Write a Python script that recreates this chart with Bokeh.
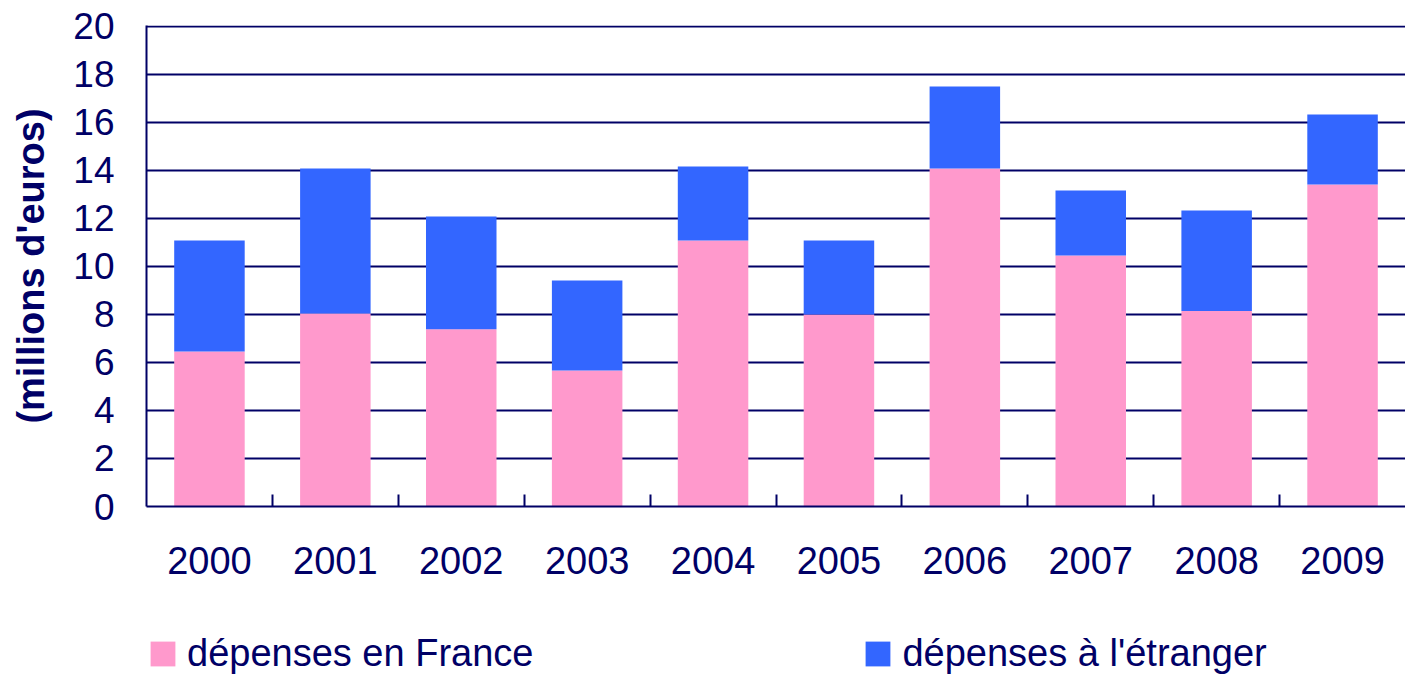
from bokeh.plotting import figure
from bokeh.models import (ColumnDataSource, Range1d, FixedTicker, Legend, LegendItem,
                          LinearAxis, Grid)
from bokeh.layouts import column
from bokeh.embed import file_html
from bokeh.resources import INLINE

years = ["2000", "2001", "2002", "2003", "2004", "2005", "2006", "2007", "2008", "2009"]
depenses_france = [6.46, 8.04, 7.38, 5.67, 11.08, 8.0, 14.08, 10.46, 8.14, 13.42]
depenses_etranger = [4.62, 6.04, 4.70, 3.75, 3.09, 3.08, 3.42, 2.71, 4.19, 2.91]
series_labels = ["dépenses en France", "dépenses à l'étranger"]
y_ticks = [0, 2, 4, 6, 8, 10, 12, 14, 16, 18, 20]

NAVY = "#000066"
PINK = "#FF99CC"
BLUE = "#3366FF"
FONT = "Liberation Sans"

xs = list(range(len(years)))
source = ColumnDataSource(dict(x=xs, france=depenses_france, etranger=depenses_etranger))

p = figure(width=1405, height=628, output_backend="svg", toolbar_location=None,
           x_range=Range1d(-0.5, len(years) - 0.5), y_range=Range1d(0, 20.04),
           x_axis_type=None, y_axis_type=None,
           min_border_left=146, min_border_right=0, min_border_top=25, min_border_bottom=122)
p.outline_line_color = None
p.background_fill_color = "white"
p.border_fill_color = "white"

ygrid = Grid(dimension=1, ticker=FixedTicker(ticks=y_ticks),
             grid_line_color=NAVY, grid_line_width=2)
p.add_layout(ygrid)

renderers = p.vbar_stack(["france", "etranger"], x="x", width=0.56, source=source,
                         color=[PINK, BLUE], line_color=None)

# y axis
yaxis = LinearAxis(ticker=FixedTicker(ticks=y_ticks))
yaxis.axis_line_color = NAVY
yaxis.axis_line_width = 2
yaxis.major_tick_in = 0
yaxis.major_tick_out = 0
yaxis.minor_tick_line_color = None
yaxis.major_label_standoff = 32
yaxis.major_label_text_font = FONT
yaxis.major_label_text_font_size = "37px"
yaxis.major_label_text_color = NAVY
yaxis.axis_label = "(millions d'euros)"
yaxis.axis_label_text_font = FONT
yaxis.axis_label_text_font_size = "38px"
yaxis.axis_label_text_font_style = "bold"
yaxis.axis_label_text_color = NAVY
yaxis.axis_label_standoff = 18
p.add_layout(yaxis, "left")

# x axis: labels at category centres, small ticks at boundaries
xaxis = LinearAxis(ticker=FixedTicker(ticks=xs, minor_ticks=[i + 0.5 for i in xs[:-1]]))
xaxis.major_label_overrides = {i: y for i, y in zip(xs, years)}
xaxis.axis_line_color = NAVY
xaxis.axis_line_width = 2
xaxis.major_tick_in = 0
xaxis.major_tick_out = 0
xaxis.minor_tick_in = 12
xaxis.minor_tick_out = 0
xaxis.minor_tick_line_color = NAVY
xaxis.minor_tick_line_width = 2
xaxis.major_label_standoff = 40
xaxis.major_label_text_font = FONT
xaxis.major_label_text_font_size = "38px"
xaxis.major_label_text_color = NAVY
p.add_layout(xaxis, "below")

# legend strip under the chart (zero-height sample bars only carry the legend swatches)
lg = figure(width=1405, height=47, output_backend="svg", toolbar_location=None,
            x_range=Range1d(0, 1), y_range=Range1d(0, 1),
            x_axis_type=None, y_axis_type=None,
            min_border_left=0, min_border_right=0, min_border_top=0, min_border_bottom=0)
lg.outline_line_color = None
lg.xgrid.visible = False
lg.ygrid.visible = False
swatch = ColumnDataSource(dict(x=[0], top=[0]))
r1 = lg.vbar(x="x", top="top", width=0, source=swatch, fill_color=PINK, line_color=None)
r2 = lg.vbar(x="x", top="top", width=0, source=swatch, fill_color=BLUE, line_color=None)

legend = Legend(items=[LegendItem(label=series_labels[0], renderers=[r1]),
                       LegendItem(label=series_labels[1], renderers=[r2])],
                orientation="horizontal", location=(1, 0))
legend.glyph_width = 31
legend.glyph_height = 31
legend.label_standoff = 9
legend.spacing = 329
legend.padding = 0
legend.margin = 0
legend.border_line_color = None
legend.background_fill_alpha = 0
legend.label_text_font = FONT
legend.label_text_font_size = "38px"
legend.label_text_color = NAVY
lg.add_layout(legend, "center")

open("out.html", "w").write(file_html(column(p, lg, spacing=0), INLINE))
